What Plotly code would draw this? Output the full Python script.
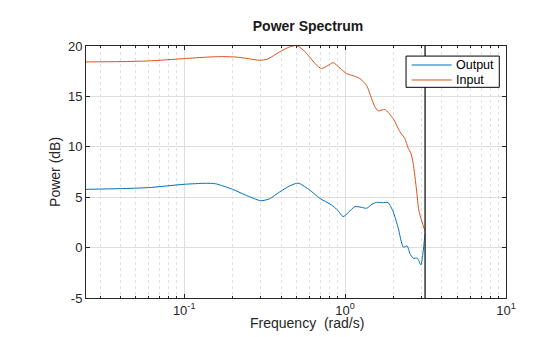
import math
import plotly.graph_objects as go

# Spectrum estimates (frequency in rad/s, power in dB)
freq_out = [0.0245, 0.04, 0.06, 0.1, 0.136, 0.157, 0.2, 0.24, 0.3, 0.34, 0.39, 0.45,
            0.50, 0.522, 0.603, 0.696, 0.823, 0.90, 0.972, 1.05, 1.149, 1.26, 1.36,
            1.47, 1.568, 1.7, 1.85, 1.99, 2.14, 2.30, 2.43, 2.53, 2.65, 2.81, 2.96,
            3.05, 3.1416]
power_out = [5.78, 5.85, 5.95, 6.28, 6.38, 6.33, 5.78, 5.22, 4.65, 4.85, 5.5, 6.1,
             6.38, 6.35, 5.71, 4.89, 4.23, 3.7, 3.07, 3.5, 4.06, 4.0, 3.9,
             4.3, 4.49, 4.45, 4.46, 3.56, 1.92, 0.04, 0.17, -0.6, -1.05, -1.05, -1.71,
             -0.5, 1.43]

freq_in = [0.0245, 0.04, 0.06, 0.1, 0.14, 0.173, 0.21, 0.25, 0.294, 0.33, 0.39, 0.45,
           0.50, 0.55, 0.603, 0.66, 0.713, 0.78, 0.842, 0.93, 1.02, 1.12, 1.235, 1.36,
           1.46, 1.53, 1.605, 1.766, 1.99, 2.19, 2.35, 2.47, 2.56, 2.65, 2.78, 2.87,
           3.0, 3.1416]
power_in = [18.42, 18.45, 18.52, 18.75, 18.9, 18.95, 18.9, 18.75, 18.58, 18.7, 19.4, 19.9,
            20.05, 19.6, 18.9, 18.15, 17.76, 18.05, 18.35, 17.8, 17.27, 17.05, 16.77, 16.1,
            14.8, 14.0, 13.56, 13.7, 12.8, 11.5, 10.83, 9.84, 9.4, 8.35, 5.71, 3.73,
            2.6, 1.6]

series_names = ["Output", "Input"]
series_colors = ["#0072BD", "#D95319"]

nyquist = math.pi
x_min, x_max = 2 * math.pi / 256, 10.0
y_ticks = [-5, 0, 5, 10, 15, 20]
x_ticks = [0.1, 1, 10]
x_tick_text = ["10<sup>-1</sup>", "10<sup>0</sup>", "10<sup>1</sup>"]

FONT = "Liberation Sans, Arial, Helvetica, sans-serif"
AX = "#262626"

minor_vals = [m * 10 ** e for e in (-2, -1, 0) for m in range(2, 10)]
minor_vals = [v for v in minor_vals if x_min < v < x_max]

fig = go.Figure()
for fx, py, name, col in zip([freq_out, freq_in], [power_out, power_in],
                             series_names, series_colors):
    fig.add_trace(go.Scatter(x=fx, y=py, name=name, mode="lines",
                             line=dict(color=col, width=1.0, shape="spline", smoothing=0.6)))
# Nyquist marker
fig.add_trace(go.Scatter(x=[nyquist, nyquist], y=[y_ticks[0], y_ticks[-1]], mode="lines",
                         line=dict(color="#333333", width=1.5), showlegend=False,
                         hoverinfo="skip"))

fig.update_layout(
    width=560, height=337,
    margin=dict(l=86, r=54, t=46, b=39),
    paper_bgcolor="white", plot_bgcolor="white",
    font=dict(family=FONT, color=AX, size=13),
    showlegend=False,
    title=dict(text="<b>Power Spectrum</b>", xref="paper", x=0.5286, xanchor="center",
               yref="container", y=0.924, yanchor="middle",
               font=dict(family=FONT, size=14, color="#1a1a1a")),
)

fig.update_xaxes(
    type="log", range=[math.log10(x_min), math.log10(x_max)],
    tickvals=x_ticks, ticktext=x_tick_text,
    ticks="inside", ticklen=4, tickcolor=AX,
    showline=True, linecolor=AX, linewidth=1, mirror="ticks",
    showgrid=True, gridcolor="#dedede", gridwidth=1,
    zeroline=False,
    minor=dict(tickvals=minor_vals, ticks="inside", ticklen=2, tickcolor=AX,
               showgrid=True, gridcolor="#e0e0e0", griddash="dot", gridwidth=1),
    tickfont=dict(size=13, color=AX),
)
fig.update_yaxes(
    range=[y_ticks[0], y_ticks[-1]],
    tickvals=y_ticks, ticktext=[str(v) for v in y_ticks],
    ticks="inside", ticklen=4, tickcolor=AX,
    showline=True, linecolor=AX, linewidth=1, mirror="ticks",
    showgrid=True, gridcolor="#dedede", gridwidth=1,
    zeroline=False,
    tickfont=dict(size=13, color=AX),
)

fig.add_annotation(text="Frequency  (rad/s)", xref="paper", yref="paper",
                   x=0.526, y=-0.098, xanchor="center", yanchor="middle",
                   showarrow=False, font=dict(family=FONT, size=14, color=AX))
fig.add_annotation(text="Power (dB)", xref="paper", yref="paper",
                   x=-0.074, y=0.5, xanchor="center", yanchor="middle", textangle=-90,
                   showarrow=False, font=dict(family=FONT, size=14, color=AX))

# Compact boxed legend in the upper right of the axes
leg_x0, leg_x1, leg_y0, leg_y1 = 0.762, 0.984, 0.836, 0.960
fig.add_shape(type="rect", xref="paper", yref="paper",
              x0=leg_x0, x1=leg_x1, y0=leg_y0, y1=leg_y1,
              line=dict(color="#000000", width=1), fillcolor="white", layer="above")
for i, (name, col) in enumerate(zip(series_names, series_colors)):
    yy = 0.9246 - i * 0.0595
    fig.add_shape(type="line", xref="paper", yref="paper",
                  x0=0.7755, x1=0.8707, y0=yy, y1=yy,
                  line=dict(color=col, width=1), layer="above")
    fig.add_annotation(text=name, xref="paper", yref="paper", x=0.876, y=yy,
                       xanchor="left", yanchor="middle", showarrow=False,
                       font=dict(family=FONT, size=12.5, color="#000000"))

fig.write_html("out.html")
